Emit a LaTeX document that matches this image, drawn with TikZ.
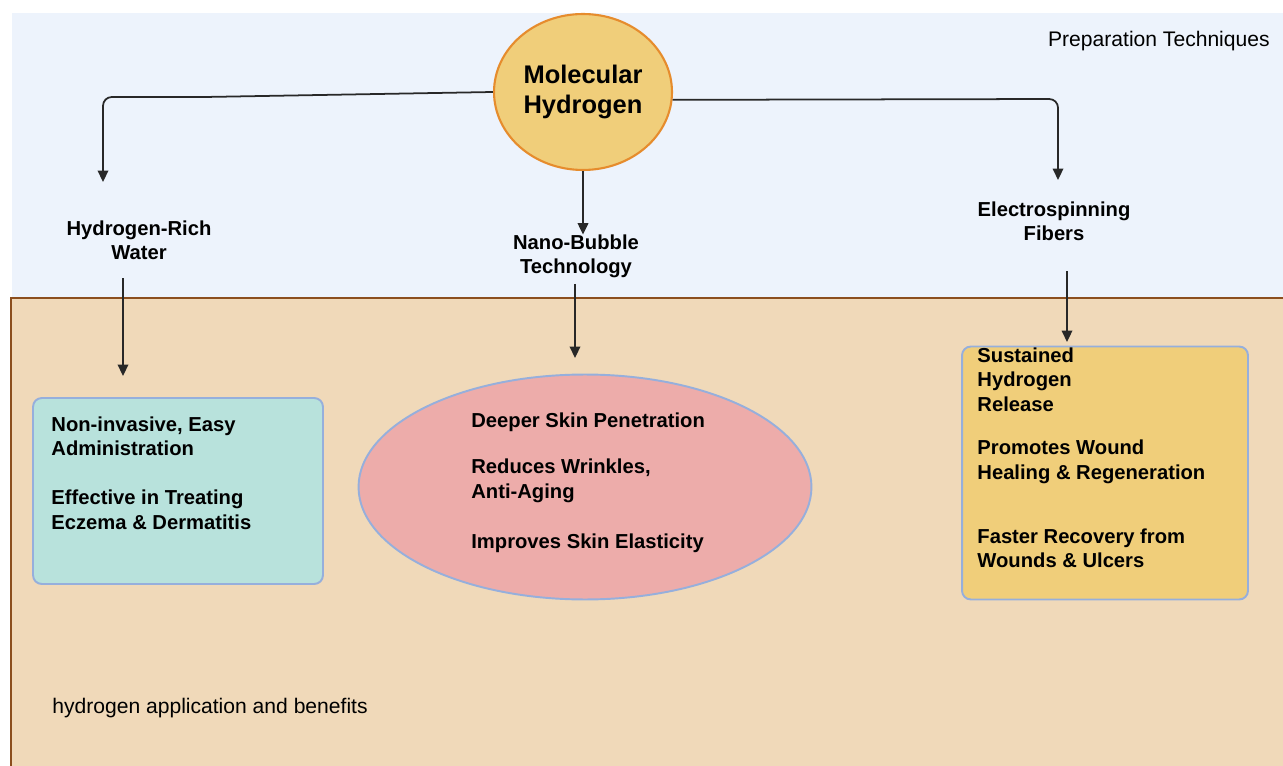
\documentclass[tikz,border=0pt]{standalone}
\usepackage{fontspec}
\setmainfont{Liberation Sans}
\usetikzlibrary{positioning,shapes.geometric,arrows.meta}
\definecolor{topbg}{RGB}{237,243,252}
\definecolor{botbg}{RGB}{240,217,185}
\definecolor{brownline}{RGB}{139,78,30}
\definecolor{hgold}{RGB}{240,206,122}
\definecolor{horange}{RGB}{230,140,45}
\definecolor{hteal}{RGB}{184,226,220}
\definecolor{hpink}{RGB}{237,172,170}
\definecolor{hblue}{RGB}{150,175,220}
\definecolor{harrow}{RGB}{40,40,40}
\tikzset{hcirc/.style={ellipse,draw=horange,fill=hgold,line width=1.2pt,minimum width=3.56cm,minimum height=3.12cm,inner sep=0pt,align=center,font=\fontsize{14.5}{17}\selectfont\bfseries},
	 hlab/.style={align=center,inner sep=0pt,font=\fontsize{11.5}{13.9}\selectfont\bfseries},
	 hbox/.style={rectangle,rounded corners=5pt,draw=hblue,line width=1.1pt},
	 htxt/.style={align=left,inner sep=0pt,anchor=base west,font=\fontsize{11.5}{13.9}\selectfont\bfseries},
	 hplain/.style={inner sep=0pt,font=\fontsize{12}{14}\selectfont},
	 harr/.style={draw=harrow,line width=1pt,-{Triangle[width=6pt,length=6.5pt]},rounded corners=5pt}
	 }
\begin{document}
\begin{tikzpicture}[x=0.02cm,y=-0.02cm]
	\useasboundingbox (0,0) rectangle (1283,766);
	\fill[topbg] (12,13) rectangle (1283,298);
	\fill[botbg] (11,298) rectangle (1283,766);
	\draw[brownline,line width=1.2pt] (1283,298) -- (11,298) -- (11,766);
	\node[hcirc] (mh) at (583,92) {Molecular\\Hydrogen};
	\node[hlab, anchor=base] (w1) at (139,260) {Hydrogen-Rich\\Water};
	\node[hlab, anchor=base] (w2) at (576,274) {Nano-Bubble\\Technology};
	\node[hlab, anchor=base] (w3) at (1054,241) {Electrospinning\\Fibers};
	\node[hplain, anchor=base east] (pt) at (1270,47) {Preparation Techniques};
	\node[hplain, anchor=base west] (ab) at (52,713) {hydrogen application and benefits};
	\node[hbox, fill=hteal, minimum width=5.8cm, minimum height=3.72cm] (b1) at (178,491) {};
	\node[ellipse, draw=hblue, fill=hpink, line width=1.1pt, minimum width=9.06cm, minimum height=4.5cm] (b2) at (585,487) {};
	\node[hbox, fill=hgold, minimum width=5.72cm, minimum height=5.06cm] (b3) at (1105,473) {};
	\node[htxt] (t1) at ([shift={(19,132)}]b1.north west) {Non-invasive, Easy\\Administration\\[13.9pt]Effective in Treating\\Eczema \& Dermatitis};
	\node[htxt] (t2) at ([shift={(-114,61)}]b2.center) {Deeper Skin Penetration\\[12.2pt]Reduces Wrinkles,\\Anti-Aging\\[14.5pt]Improves Skin Elasticity};
	\node[htxt] (t3) at ([shift={(16,222)}]b3.north west) {Sustained\\Hydrogen\\Release\\[11pt]Promotes Wound\\Healing \& Regeneration\\[22.4pt]Faster Recovery from\\Wounds \& Ulcers};
	\coordinate (e1) at (103,182);
	\coordinate (e3) at (1058,180);
	\coordinate (f1) at (123,376);
	\coordinate (f2) at (575,358);
	\coordinate (f3) at (1067,342);
	\draw[harr] (mh.west) -- (205,97) -- (103,97) -- (e1);
	\draw[harr] (mh.south) -- (mh.south |- w2.north);
	\draw[harr] (mh.-5) -- (1058,99) -- (e3);
	\draw[harr, shorten <=10pt] (w1.south -| f1) -- (f1);
	\draw[harr, shorten <=3pt] (w2.south -| f2) -- (f2);
	\draw[harr, shorten <=17pt] (w3.south -| f3) -- (f3);
\end{tikzpicture}
\end{document}
